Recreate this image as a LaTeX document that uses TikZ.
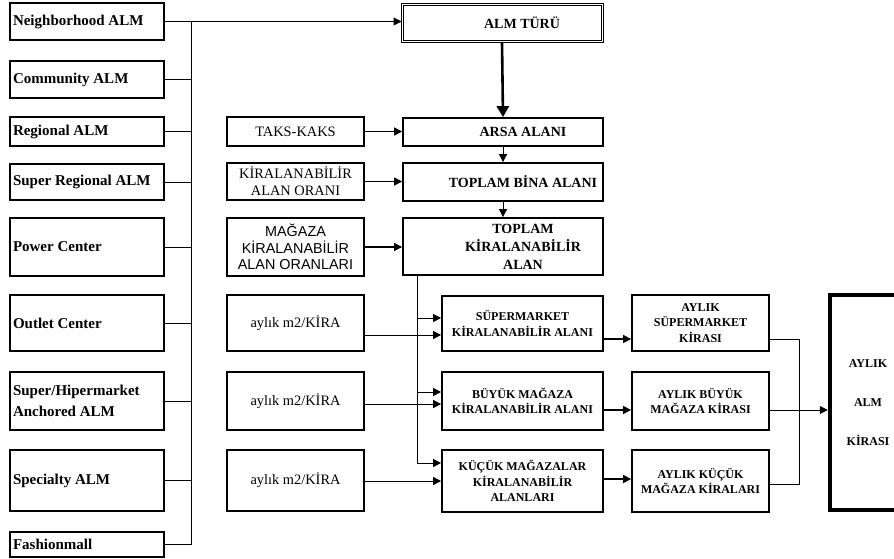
\documentclass[tikz,border=0pt]{standalone}
\usepackage{fontspec}
\setmainfont{Liberation Serif}
\newfontfamily\arialfont{Liberation Sans}
\usetikzlibrary{arrows.meta}
\tikzset{
  almbox/.style={draw, line width=1.8pt, text width=148pt, inner xsep=3pt, align=flush left, font=\fontsize{15}{21}\selectfont\bfseries},
  inbox/.style={draw, line width=1.2pt, minimum width=137pt, align=center, font=\fontsize{14.4}{17}\selectfont},
  mainbox/.style={draw, line width=1.8pt, minimum width=200pt},
  lbl/.style={xshift=20pt, align=center, font=\fontsize{14}{18}\selectfont\bfseries},
  calcbox/.style={draw, line width=1.8pt, align=center, font=\fontsize{12}{15.5}\selectfont\bfseries},
  arw/.style={-{Triangle[length=8pt,width=8pt]}}
}

\begin{document}
\begin{tikzpicture}[x=1pt,y=-1pt]
\useasboundingbox (0,0) rectangle (894,559);
% ALM types
\foreach \n/\yc/\h/\txt in {nb/21.5/37/Neighborhood ALM, cm/79.5/37/Community ALM, rg/131.5/29/Regional ALM, sr/182/36/Super Regional ALM, pc/247/58/Power Center, oc/323/56/Outlet Center, sh/401/58/{Super/Hipermarket\\Anchored ALM}, sp/480.5/61/Specialty ALM, fm/544.5/25/Fashionmall}
  \node[almbox, minimum height=\h pt] (\n) at (87,\yc) {\txt};
\coordinate (bus) at (191,0);
\foreach \n in {cm,rg,sr,pc,oc,sh,sp,fm}
  \draw[line width=1pt] (\n.east) -- (\n.east -| bus);
\draw[line width=1pt] (nb.east -| bus) -- (fm.east -| bus);

% main column
\node[mainbox, double, double distance=1pt, line width=1pt, minimum height=37pt, label={[lbl]center:ALM TÜRÜ}] (tur) at (502,23) {};
\node[mainbox, minimum height=28pt, label={[lbl]center:ARSA ALANI}] (arsa) at (503,132) {};
\node[mainbox, minimum height=38pt, label={[lbl]center:TOPLAM BİNA ALANI}] (bina) at (503,182) {};
\node[mainbox, minimum height=57pt, label={[lbl]center:TOPLAM\\KİRALANABİLİR\\ALAN}] (toplam) at (503,246.5) {};
\draw[arw, line width=1pt] (nb.east) -- (nb.east -| tur.west);
\draw[line width=2.6pt, -{Triangle[length=11pt,width=12pt]}] (tur.south) -- (arsa.north);
\draw[arw, line width=0.8pt] (arsa.south) -- (bina.north);
\draw[arw, line width=0.8pt] (bina.south) -- (toplam.north);

% inputs
\node[inbox, minimum height=29pt] (tk) at (295.5,131.5) {TAKS-KAKS};
\node[inbox, minimum height=37pt] (ko) at (295.5,181.5) {KİRALANABİLİR\\ALAN ORANI};
\node[inbox, minimum height=58pt, font=\arialfont\fontsize{14.4}{16.5}\selectfont] (mk) at (295.5,247) {MAĞAZA\\KİRALANABİLİR\\ALAN ORANLARI};
\foreach \a/\yc/\h in {a1/323/56, a2/401/58, a3/480.5/61}
  \node[inbox, minimum height=\h pt] (\a) at (295.5,\yc) {aylık m2/KİRA};
\foreach \a/\b in {tk/arsa, ko/bina, mk/toplam}
  \draw[arw, line width=1.2pt] (\a.east) -- (\a.east -| \b.west);

% rentable areas and rents
\node[calcbox, minimum width=161pt, minimum height=55pt] (s1) at (522.5,323.5) {SÜPERMARKET\\KİRALANABİLİR ALANI};
\node[calcbox, minimum width=161pt, minimum height=58pt] (s2) at (522.5,401) {BÜYÜK MAĞAZA\\KİRALANABİLİR ALANI};
\node[calcbox, minimum width=161pt, minimum height=62pt] (s3) at (522.5,481) {KÜÇÜK MAĞAZALAR\\KİRALANABİLİR\\ALANLARI};
\node[calcbox, minimum width=137pt, minimum height=56pt] (k1) at (700.5,323) {AYLIK\\SÜPERMARKET\\KİRASI};
\node[calcbox, minimum width=137pt, minimum height=58pt] (k2) at (700.5,401) {AYLIK BÜYÜK\\MAĞAZA KİRASI};
\node[calcbox, minimum width=137pt, minimum height=62pt] (k3) at (700.5,481) {AYLIK KÜÇÜK\\MAĞAZA KİRALARI};
\node[draw, line width=4.5pt, minimum width=76pt, minimum height=215pt, align=center, font=\fontsize{12}{39}\selectfont\bfseries] (tot) at (868,402.5) {AYLIK\\ALM\\KİRASI};

\coordinate (drop) at (417,0);
\draw[line width=1pt] (toplam.south -| drop) -- ([yshift=18pt]s3.west -| drop);
\foreach \s/\d in {s1/5.5, s2/9, s3/18}
  \draw[arw, line width=1pt] ([yshift=\d pt]\s.west -| drop) -- ([yshift=\d pt]\s.west);
\foreach \a/\s/\d in {a1/s1/-11.5, a2/s2/-3, a3/s3/0}
  \draw[arw, line width=1pt] ([yshift=\d pt]\s.west -| \a.east) -- ([yshift=\d pt]\s.west);
\foreach \s/\k/\d in {s1/k1/-15.5, s2/k2/-9, s3/k3/2}
  \draw[arw, line width=1.6pt] ([yshift=\d pt]\s.east) -- ([yshift=\d pt]\s.east -| \k.west);

\coordinate (jn) at (799,410);
\draw[line width=0.7pt] ([yshift=-16pt]k1.east) -| (jn);
\draw[line width=0.7pt] ([yshift=-3pt]k3.east) -| (jn);
\draw[arw, line width=1pt] ([yshift=-9pt]k2.east) -- ([yshift=-9pt]k2.east -| tot.west);
\end{tikzpicture}
\end{document}
